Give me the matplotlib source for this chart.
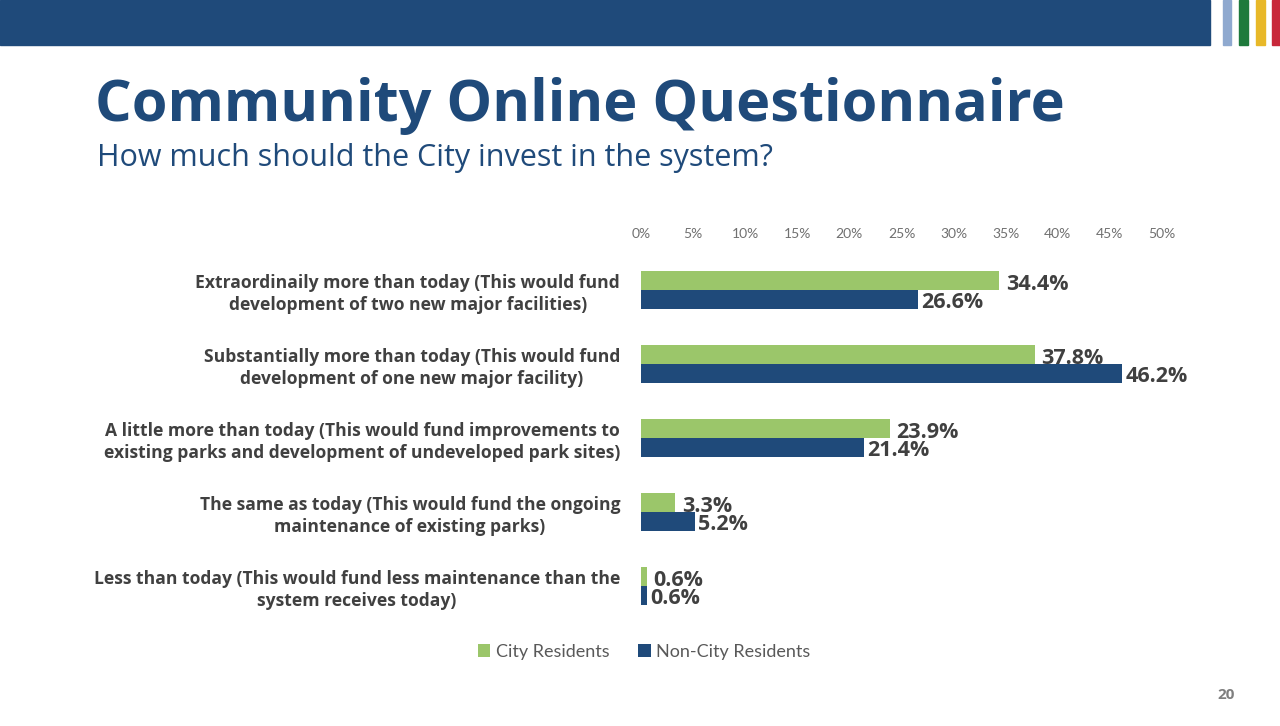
import matplotlib
matplotlib.use("Agg")
import matplotlib.pyplot as plt
from matplotlib.patches import Rectangle

categories = [
    "Extraordinaily more than today (This would fund\ndevelopment of two new major facilities)",
    "Substantially more than today (This would fund\ndevelopment of one new major facility)",
    "A little more than today (This would fund improvements to\nexisting parks and development of undeveloped park sites)",
    "The same as today (This would fund the ongoing\nmaintenance of existing parks)",
    "Less than today (This would fund less maintenance than the\nsystem receives today)",
]
city = [34.4, 37.8, 23.9, 3.3, 0.6]
noncity = [26.6, 46.2, 21.4, 5.2, 0.6]
series_names = ["City Residents", "Non-City Residents"]
ticks = [0, 5, 10, 15, 20, 25, 30, 35, 40, 45, 50]

GREEN = "#9BC66A"
BLUE = "#1F4A7A"
TXT = "#404040"
FONT = ["Open Sans", "DejaVu Sans"]
FONT2 = ["Lato", "DejaVu Sans"]

fig = plt.figure(figsize=(12.8, 7.26), dpi=100)
fig.patch.set_facecolor("white")

# banner
fig.add_artist(Rectangle((0, 1 - 45/726), 1210/1280, 45/726, transform=fig.transFigure,
                         color=BLUE, zorder=0))
for x0, w, c in [(1223, 8, "#8FA9CF"), (1239, 9, "#1E7A3C"), (1256, 9, "#E8B828"), (1272, 8, "#C8283A")]:
    fig.add_artist(Rectangle((x0/1280, 1 - 45/726), w/1280, 45/726, transform=fig.transFigure,
                             color=c, zorder=0))

fig.text(95/1280, 1 - 106/726, "Community Online Questionnaire", fontsize=41.5, fontweight="bold",
         color="#1F4A7A", family=FONT, va="center", ha="left")
fig.text(97/1280, 1 - 158/726, "How much should the City invest in the system?", fontsize=22,
         color="#1F4A7A", family=FONT, va="center", ha="left")
fig.text(1235/1280, 1 - 695/726, "20", fontsize=11, fontweight="bold", color="#7F7F7F",
         family=FONT, va="center", ha="right")

ax = fig.add_axes([641/1280, 1 - 623/726, (1162 - 641)/1280, (623 - 253)/726])
h = 0.26
y = list(range(len(categories)))
ax.barh([i - h/2 for i in y], city, height=h, color=GREEN, label=series_names[0])
ax.barh([i + h/2 for i in y], noncity, height=h, color=BLUE, label=series_names[1])
for i in y:
    ax.text(city[i] + 0.6, i - h/2 + 0.05, f"{city[i]:.1f}%", va="center", ha="left", fontsize=15.5,
            fontweight="bold", color=TXT, family=FONT)
    ax.text(noncity[i] + 0.3, i + h/2 + 0.04, f"{noncity[i]:.1f}%", va="center", ha="left", fontsize=15.5,
            fontweight="bold", color=TXT, family=FONT)

ax.set_xlim(0, 50)
ax.set_ylim(len(categories) - 0.5, -0.5)
ax.set_xticks(ticks)
ax.set_xticklabels([f"{t}%" for t in ticks], fontsize=10, color="#707070", family=FONT2)
ax.xaxis.tick_top()
ax.tick_params(axis="x", length=0, pad=9)
ax.set_yticks(y)
ax.set_yticklabels(categories, fontsize=12.6, fontweight="bold", color=TXT, family=FONT,
                   linespacing=1.3, ha="right", multialignment="center")
ax.tick_params(axis="y", length=0, pad=15)
for s in ax.spines.values():
    s.set_visible(False)

leg = fig.legend(loc="center", bbox_to_anchor=(644/1280, 1 - 652/726), ncol=2, frameon=False,
                 prop={"family": FONT2, "size": 13}, handlelength=0.7, handleheight=0.7,
                 handletextpad=0.3, columnspacing=1.6)
for t in leg.get_texts():
    t.set_color("#595959")

fig.savefig("out.png", dpi=100, facecolor="white")
